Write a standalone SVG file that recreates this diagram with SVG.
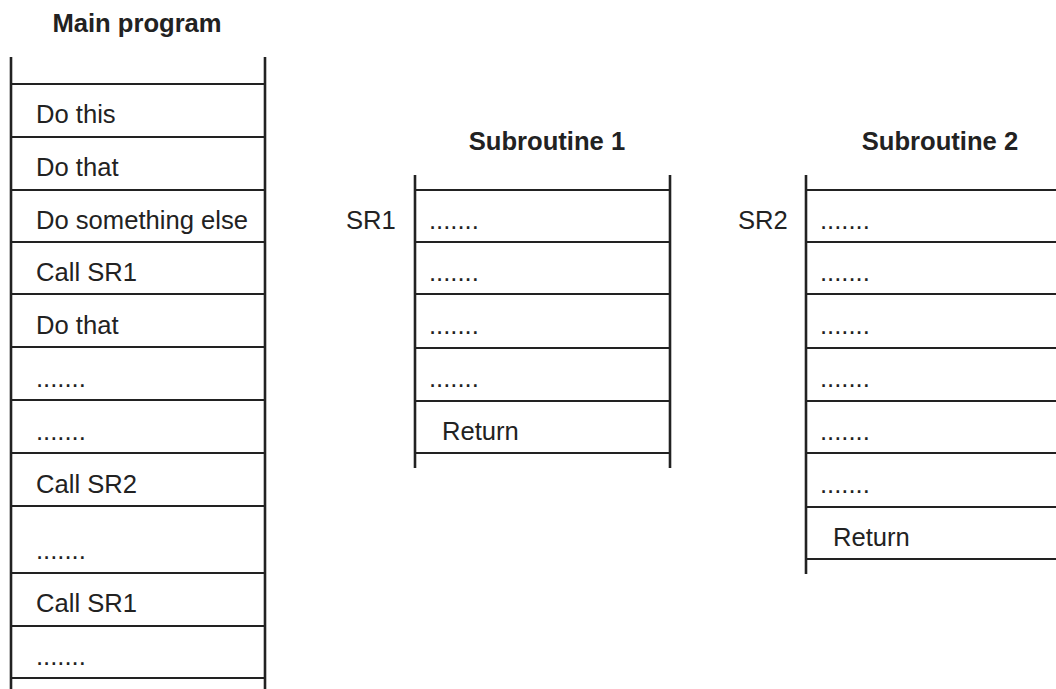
<svg xmlns="http://www.w3.org/2000/svg" width="1056" height="689" viewBox="0 0 1056 689">
  <style>
    .title { font-family: "Liberation Sans", Arial, sans-serif; font-size: 25.6px; font-weight: bold; fill: #222; text-anchor: middle; }
    .lbl { font-family: "Liberation Sans", Arial, sans-serif; font-size: 25.6px; fill: #222; }
    .side { stroke: #222; stroke-width: 2.6; fill: none; }
    .row { stroke: #222; stroke-width: 1.8; fill: none; }
  </style>
  <rect width="1056" height="689" fill="#fff"/>

  <!-- Main program stack -->
  <g id="main-program">
    <text class="title" x="137" y="32">Main program</text>
    <line class="side" x1="11" y1="57" x2="11" y2="689"/>
    <line class="side" x1="265" y1="57" x2="265" y2="689"/>
    <g class="row">
      <line x1="11" y1="84" x2="265" y2="84"/>
      <line x1="11" y1="137" x2="265" y2="137"/>
      <line x1="11" y1="190" x2="265" y2="190"/>
      <line x1="11" y1="242" x2="265" y2="242"/>
      <line x1="11" y1="294" x2="265" y2="294"/>
      <line x1="11" y1="347" x2="265" y2="347"/>
      <line x1="11" y1="400" x2="265" y2="400"/>
      <line x1="11" y1="453" x2="265" y2="453"/>
      <line x1="11" y1="506" x2="265" y2="506"/>
      <line x1="11" y1="573" x2="265" y2="573"/>
      <line x1="11" y1="626" x2="265" y2="626"/>
      <line x1="11" y1="678" x2="265" y2="678"/>
    </g>
    <text class="lbl" x="36" y="123">Do this</text>
    <text class="lbl" x="36" y="176">Do that</text>
    <text class="lbl" x="36" y="229">Do something else</text>
    <text class="lbl" x="36" y="281">Call SR1</text>
    <text class="lbl" x="36" y="334">Do that</text>
    <text class="lbl" x="36" y="387">.......</text>
    <text class="lbl" x="36" y="440">.......</text>
    <text class="lbl" x="36" y="493">Call SR2</text>
    <text class="lbl" x="36" y="559">.......</text>
    <text class="lbl" x="36" y="612">Call SR1</text>
    <text class="lbl" x="36" y="665">.......</text>
  </g>

  <!-- Subroutine 1 stack -->
  <g id="subroutine-1">
    <text class="title" x="547" y="150">Subroutine 1</text>
    <text class="lbl" x="346" y="229">SR1</text>
    <line class="side" x1="415" y1="175" x2="415" y2="468"/>
    <line class="side" x1="670" y1="175" x2="670" y2="468"/>
    <g class="row">
      <line x1="415" y1="190" x2="670" y2="190"/>
      <line x1="415" y1="242" x2="670" y2="242"/>
      <line x1="415" y1="294" x2="670" y2="294"/>
      <line x1="415" y1="348" x2="670" y2="348"/>
      <line x1="415" y1="401" x2="670" y2="401"/>
      <line x1="415" y1="453" x2="670" y2="453"/>
    </g>
    <text class="lbl" x="429" y="229">.......</text>
    <text class="lbl" x="429" y="281">.......</text>
    <text class="lbl" x="429" y="334">.......</text>
    <text class="lbl" x="429" y="387">.......</text>
    <text class="lbl" x="442" y="440">Return</text>
  </g>

  <!-- Subroutine 2 stack -->
  <g id="subroutine-2">
    <text class="title" x="940" y="150">Subroutine 2</text>
    <text class="lbl" x="738" y="229">SR2</text>
    <line class="side" x1="806" y1="175" x2="806" y2="574"/>
    <g class="row">
      <line x1="806" y1="190" x2="1056" y2="190"/>
      <line x1="806" y1="242" x2="1056" y2="242"/>
      <line x1="806" y1="294" x2="1056" y2="294"/>
      <line x1="806" y1="348" x2="1056" y2="348"/>
      <line x1="806" y1="401" x2="1056" y2="401"/>
      <line x1="806" y1="453" x2="1056" y2="453"/>
      <line x1="806" y1="507" x2="1056" y2="507"/>
      <line x1="806" y1="559" x2="1056" y2="559"/>
    </g>
    <text class="lbl" x="820" y="229">.......</text>
    <text class="lbl" x="820" y="281">.......</text>
    <text class="lbl" x="820" y="334">.......</text>
    <text class="lbl" x="820" y="387">.......</text>
    <text class="lbl" x="820" y="440">.......</text>
    <text class="lbl" x="820" y="493">.......</text>
    <text class="lbl" x="833" y="546">Return</text>
  </g>

  <!-- no connectors are drawn between the stacks -->
  <g id="connectors"/>
</svg>
